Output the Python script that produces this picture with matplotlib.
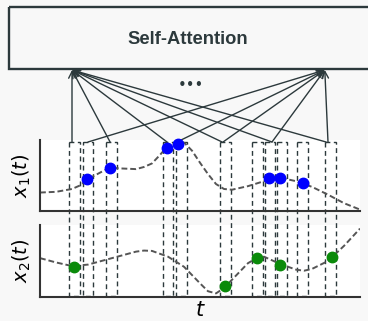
import matplotlib.pyplot as plt
from matplotlib.patches import Rectangle

# x1(t) curve
x1_t = [0, 0.5, 1.0, 1.25, 1.5, 2.0, 2.2, 2.5, 3.0, 3.25, 3.5, 3.75, 4.0, 4.25, 4.5,
        4.75, 5.0, 5.25, 5.5, 5.75, 6.0, 6.5, 7.0, 7.5, 8.0, 8.5, 9.0, 9.5, 10.0]
x1_val = [0.26, 0.27, 0.31, 0.36, 0.45, 0.57, 0.61, 0.60, 0.59, 0.62, 0.67, 0.79, 0.92,
          0.97, 0.965, 0.85, 0.68, 0.52, 0.38, 0.31, 0.30, 0.35, 0.42, 0.47, 0.42, 0.34,
          0.23, 0.11, 0.02]
# x2(t) curve
x2_t = [0, 0.5, 1.0, 1.5, 2.0, 2.5, 3.0, 3.25, 3.5, 4.0, 4.5, 5.0, 5.25, 5.5, 5.75,
        6.0, 6.5, 6.75, 7.0, 7.5, 8.0, 8.25, 8.5, 9.0, 9.5, 10.0]
x2_val = [0.54, 0.48, 0.43, 0.45, 0.51, 0.57, 0.63, 0.645, 0.64, 0.56, 0.42, 0.19, 0.08,
          0.05, 0.125, 0.24, 0.47, 0.535, 0.56, 0.46, 0.38, 0.365, 0.39, 0.50, 0.71, 0.95]

# observations
obs1_t = [1.48, 2.19, 3.96, 4.30, 7.17, 7.50, 8.23]
obs1_val = [0.45, 0.61, 0.89, 0.94, 0.46, 0.46, 0.40]
obs2_t = [1.07, 5.78, 6.77, 7.50, 9.12]
obs2_val = [0.42, 0.15, 0.54, 0.45, 0.55]

# time windows (centres) and where the attention lines leave them
win_t = [1.08, 1.5, 2.23, 4.0, 4.42, 5.80, 6.80, 7.19, 7.56, 8.20, 9.08]
to_left = [1.0, 2.19, 3.97, 5.69, 7.25, 8.94]
to_right = [1.5, 4.28, 5.72, 7.25, 9.0]

dark = '#2c393c'
W, H = 368, 321
fig = plt.figure(figsize=(W / 100, H / 100), dpi=100, facecolor='#f8f8f8')

# panels in pixel placement
ax1 = fig.add_axes([40 / W, 1 - 211 / H, 320 / W, 71 / H], zorder=2)
ax2 = fig.add_axes([40 / W, 1 - 297 / H, 320 / W, 72 / H], zorder=2)
# overlay for windows, arrows and the box (x in t units, y in pixels)
ov = fig.add_axes([0, 0, 1, 1], zorder=1)
ov.set_xlim(-1.25, 10.25)
ov.set_ylim(H, 0)
ov.axis('off')

for ax, tt, vv, ot, ov_, col, lab in [(ax1, x1_t, x1_val, obs1_t, obs1_val, 'blue', '$x_1(t)$'),
                                       (ax2, x2_t, x2_val, obs2_t, obs2_val, '#0a8a0a', '$x_2(t)$')]:
    ax.set_facecolor('none')
    ov.add_patch(Rectangle((0, 0), 1, 1, transform=ax.transAxes, facecolor='white',
                           edgecolor='none', zorder=0))
    ax.plot(tt, vv, color='#555555', lw=1.4, dashes=(3, 1.5))
    ax.plot(ot, ov_, 'o', color=col, ms=7.5, mec=col, clip_on=False)
    ax.set_xlim(0, 10)
    ax.set_ylim(0, 1)
    ax.set_xticks([])
    ax.set_yticks([])
    for s in ['top', 'right']:
        ax.spines[s].set_visible(False)
    for s in ['left', 'bottom']:
        ax.spines[s].set_color('#333333')
        ax.spines[s].set_linewidth(1.5)
    ax.set_ylabel(lab, fontsize=14, labelpad=5)
ax2.set_xlabel('$t$', fontsize=15, labelpad=2)

# dashed windows spanning both panels
hw = 0.166
for c in win_t:
    ov.add_patch(Rectangle((c - hw, 142), 2 * hw, 154, fill=False, edgecolor=dark,
                           lw=1.0, linestyle=(0, (3.5, 2.5)), zorder=2))

# self-attention box, running off the right edge
ov.add_patch(Rectangle((-0.97, 7), 13, 62, fill=False, edgecolor=dark, lw=1.7, zorder=3))
ov.text(4.625, 39, 'Self-Attention', ha='center', va='center', fontsize=13.2,
        fontweight='bold', family='Liberation Sans', color=dark)
ov.text(4.72, 85, '\u2022\u2022\u2022', ha='center', va='center', fontsize=10.5, color=dark)

for targ, srcs in [(1.0, to_left), (8.9, to_right)]:
    for s in srcs:
        ov.annotate('', xy=(targ, 70), xytext=(s, 142),
                    arrowprops=dict(arrowstyle='->', lw=1.0, color=dark, shrinkA=0,
                                    shrinkB=0, mutation_scale=12))

fig.savefig('out.png', dpi=100, facecolor=fig.get_facecolor())
